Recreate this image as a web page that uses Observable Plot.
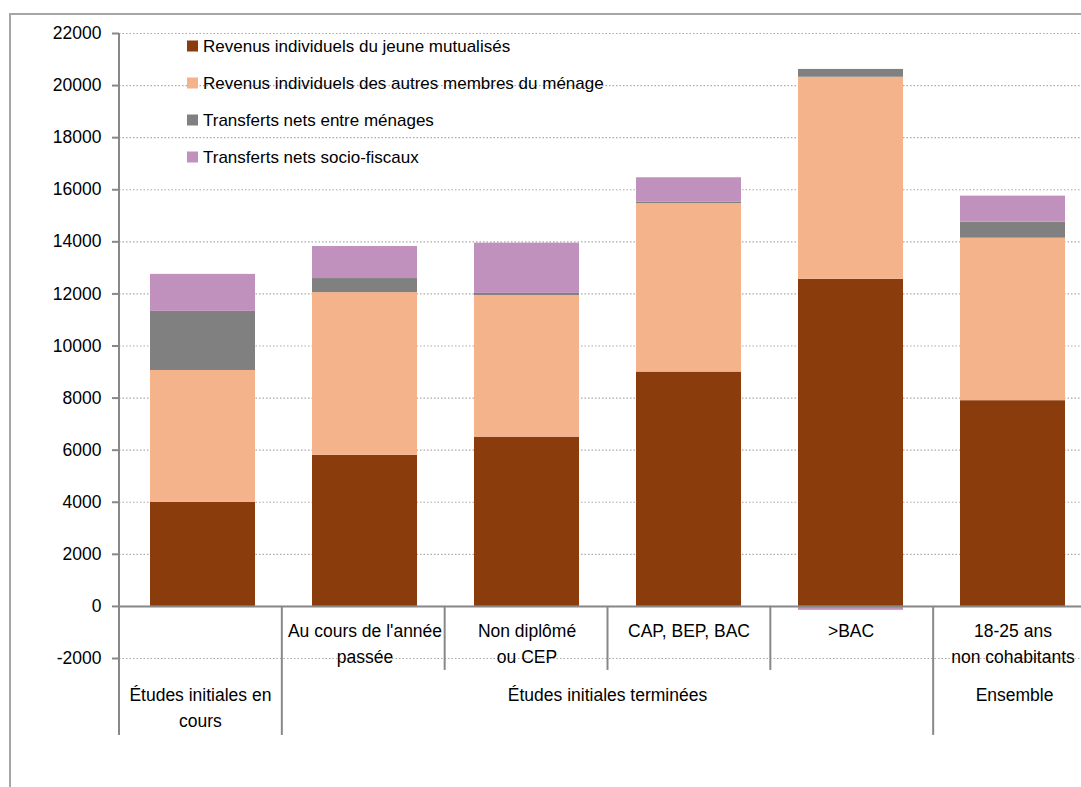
<!DOCTYPE html>
<html>
<head>
<meta charset="utf-8">
<script src="https://cdn.jsdelivr.net/npm/d3@7"></script>
<script src="https://cdn.jsdelivr.net/npm/@observablehq/plot@0.6"></script>
<style>
  html, body { margin: 0; padding: 0; background: #fff; }
  #chart { width: 1081px; height: 787px; overflow: hidden; }
  #chart svg g[aria-label="y-axis tick label"] { font-size: 17.5px; }
</style>
</head>
<body>
<div id="chart"></div>
<script>
// ---- data ----
const categories = ["cours", "annee", "nondip", "cap", "bac", "ensemble"];
const categoryLabels = ["", "Au cours de l'année\npassée", "Non diplômé\nou CEP", "CAP, BEP, BAC", ">BAC", "18-25 ans\nnon cohabitants"];
const groups = [
  {label: "Études initiales en\ncours", from: 0, to: 1},
  {label: "Études initiales terminées", from: 1, to: 5},
  {label: "Ensemble", from: 5, to: 6}
];
const series = [
  "Revenus individuels du jeune mutualisés",
  "Revenus individuels des autres membres du ménage",
  "Transferts nets entre ménages",
  "Transferts nets socio-fiscaux"
];
const revenusJeune   = [4000, 5800, 6500, 9000, 12560, 7900];
const revenusAutres  = [5060, 6250, 5440, 6470, 7760, 6240];
const transfertsMen  = [2270, 540, 80, 60, 300, 615];
const transfertsSoc  = [1420, 1230, 1930, 930, -150, 1000];
const colors = ["#8B3C0C", "#F4B38B", "#808080", "#BF91BC"];
const yTicks = [-2000, 0, 2000, 4000, 6000, 8000, 10000, 12000, 14000, 16000, 18000, 20000, 22000];

const seriesValues = [revenusJeune, revenusAutres, transfertsMen, transfertsSoc];
const data = [];
series.forEach((s, si) => categories.forEach((c, ci) => data.push({cat: c, series: s, value: seriesValues[si][ci]})));

const font = "'Liberation Sans', Arial, sans-serif";
const FS = 17.5;
const W = 1081, H = 787;

const plot = Plot.plot({
  width: W, height: H,
  marginTop: 33, marginBottom: 129, marginLeft: 119, marginRight: 0,
  style: {fontFamily: font, fontSize: FS + "px", color: "#000", background: "white", overflow: "visible"},
  x: {type: "band", domain: categories, range: [119, 1096], paddingInner: 0.35, paddingOuter: 0.175, axis: null},
  y: {domain: [-2000, 22000], axis: null},
  color: {domain: series, range: colors},
  marks: [
    Plot.gridY(yTicks, {stroke: "#aaaaaa", strokeOpacity: 1, strokeDasharray: "1.5,2", strokeWidth: 1.2}),
    Plot.barY(data, {x: "cat", y: "value", fill: "series", order: series}),
    Plot.ruleY([0], {stroke: "#888", strokeWidth: 2}),
    Plot.axisY(yTicks, {label: null, tickSize: 7, tickPadding: 11, stroke: "#888", strokeWidth: 2, fontSize: FS, fill: "#000", tickFormat: d => String(d)}),
    Plot.text(categories, {x: d => d, y: () => 0, text: (d, i) => categoryLabels[i], lineAnchor: "top", dy: 12, lineHeight: 1.5, fontSize: FS, fill: "#000"})
  ]
});
document.getElementById("chart").appendChild(plot);

// ---- decorations using the plot's own scales ----
const svg = d3.select(plot);
const xs = plot.scale("x"), ys = plot.scale("y");
const x0 = xs.range[0], step = (xs.range[1] - xs.range[0]) / categories.length;
const y0 = ys.apply(0), yTop = ys.apply(22000);
const shortEnd = y0 + 64, longEnd = y0 + 129;
const deco = svg.append("g").attr("stroke", "#888").attr("stroke-width", 2).attr("fill", "none");
// outer frame
svg.append("path").attr("d", `M10,${H} V14 H${W}`).attr("stroke", "#a6a6a6").attr("stroke-width", 2).attr("fill", "none");
// y axis line
deco.append("line").attr("x1", x0).attr("x2", x0).attr("y1", yTop).attr("y2", longEnd);
// category separators
const longSeps = new Set([0, 1, 5, 6]);
for (let k = 1; k <= categories.length; k++) {
  const x = x0 + k * step;
  deco.append("line").attr("x1", x).attr("x2", x).attr("y1", y0).attr("y2", longSeps.has(k) ? longEnd : shortEnd);
}
// group labels
const gl = svg.append("g").attr("font-family", font).attr("font-size", FS).attr("fill", "#000").attr("text-anchor", "middle");
groups.forEach(g => {
  const cx = x0 + (g.from + g.to) / 2 * step;
  g.label.split("\n").forEach((line, li) => {
    gl.append("text").attr("x", cx).attr("y", y0 + 95 + li * 26).text(line);
  });
});
// legend
const lg = svg.append("g").attr("font-family", font).attr("font-size", 17).attr("fill", "#000").attr("text-anchor", "start");
series.forEach((s, i) => {
  const cy = 46 + i * 37;
  lg.append("rect").attr("x", 187).attr("y", cy - 5.5).attr("width", 11).attr("height", 11).attr("fill", plot.scale("color").apply(s));
  lg.append("text").attr("x", 203).attr("y", cy).attr("dy", "0.35em").text(s);
});
</script>
</body>
</html>
